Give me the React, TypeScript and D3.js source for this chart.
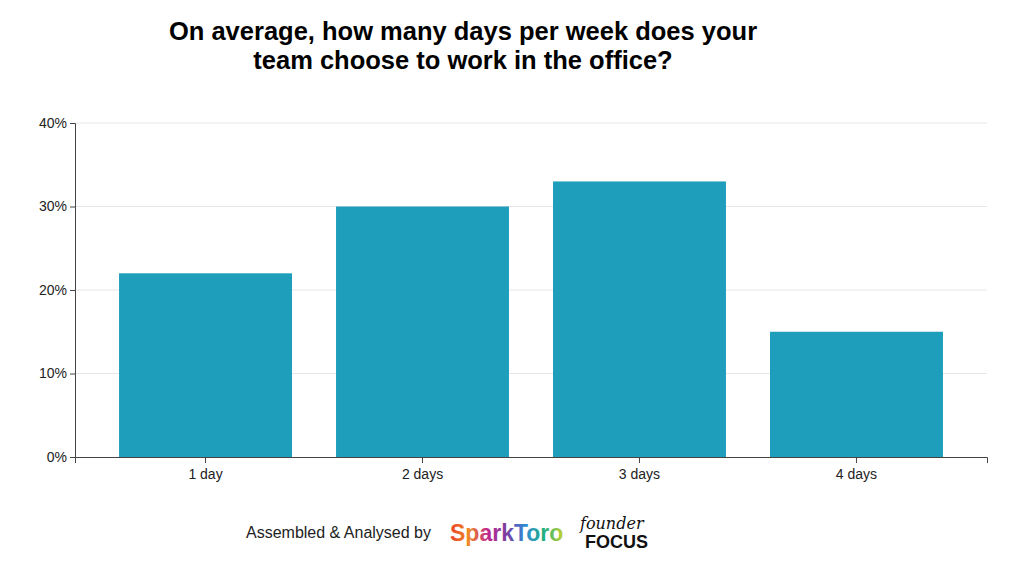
import { useEffect, useRef } from 'react';
import * as d3 from 'd3';

const categories = ['1 day', '2 days', '3 days', '4 days'];
const values = [22, 30, 33, 15];
const yTicks = [0, 10, 20, 30, 40];
const titleLines = ['On average, how many days per week does your', 'team choose to work in the office?'];

export default function App() {
  const svgRef = useRef<SVGSVGElement>(null);

  useEffect(() => {
    if (!svgRef.current) return;
    const svg = d3.select(svgRef.current);
    svg.selectAll('*').remove();
    const font = 'Helvetica, Arial, "Liberation Sans", sans-serif';
    const margin = { top: 123, left: 75, right: 37, bottom: 109 };
    const width = 1024, height = 566;
    const w = width - margin.left - margin.right;
    const h = height - margin.top - margin.bottom;

    const x = d3.scaleBand().domain(categories).range([0, w]).paddingInner(0.203).paddingOuter(0.203);
    const y = d3.scaleLinear().domain([0, 40]).range([h, 0]);

    svg.selectAll('text.title')
      .data(titleLines)
      .enter()
      .append('text')
      .attr('x', 463)
      .attr('y', (d, i) => 40 + i * 29)
      .attr('text-anchor', 'middle')
      .attr('font-family', font)
      .attr('font-size', '25.5px')
      .attr('font-weight', '700')
      .attr('fill', '#000')
      .text(d => d);

    const g = svg.append('g').attr('transform', `translate(${margin.left},${margin.top})`);

    // 그리드
    g.selectAll('line.grid')
      .data(yTicks.slice(1))
      .enter()
      .append('line')
      .attr('x1', 0).attr('x2', w)
      .attr('y1', d => y(d)).attr('y2', d => y(d))
      .attr('stroke', '#e6e6e6');

    g.selectAll('rect.bar')
      .data(values)
      .enter()
      .append('rect')
      .attr('x', (d, i) => x(categories[i])!)
      .attr('y', d => y(d))
      .attr('width', x.bandwidth())
      .attr('height', d => h - y(d))
      .attr('fill', '#1e9ebb');

    const yAxis = g.append('g')
      .call(d3.axisLeft(y).tickValues(yTicks).tickFormat(d => `${d}%`).tickSize(5).tickPadding(3));
    const xAxis = g.append('g')
      .attr('transform', `translate(0,${h})`)
      .call(d3.axisBottom(x).tickSize(6).tickPadding(6));
    [yAxis, xAxis].forEach(a => {
      a.selectAll('text').attr('font-family', font).attr('font-size', '14px').attr('fill', '#222');
      a.selectAll('line, path').attr('stroke', '#444');
    });

    // 크레딧
    svg.append('text')
      .attr('x', 246).attr('y', 538)
      .attr('font-family', font).attr('font-size', '16px').attr('fill', '#222')
      .text('Assembled & Analysed by');

    const defs = svg.append('defs');
    const grad = defs.append('linearGradient').attr('id', 'spark');
    ['#e8412c', '#f08a24', '#c2268f', '#7b3fa0', '#2e8bd6', '#22b07d', '#c9d12c'].forEach((c, i, arr) => {
      grad.append('stop').attr('offset', `${(i / (arr.length - 1)) * 100}%`).attr('stop-color', c);
    });
    svg.append('text')
      .attr('x', 450).attr('y', 541)
      .attr('font-family', font).attr('font-size', '23px').attr('font-weight', '700')
      .attr('fill', 'url(#spark)')
      .text('SparkToro');
    svg.append('text')
      .attr('x', 580).attr('y', 529)
      .attr('font-family', '"DejaVu Serif", serif').attr('font-style', 'italic')
      .attr('font-size', '16px').attr('fill', '#111')
      .text('founder');
    svg.append('text')
      .attr('x', 585).attr('y', 548)
      .attr('font-family', font).attr('font-size', '18px').attr('font-weight', '900')
      .attr('fill', '#111')
      .text('FOCUS');
  }, []);

  return (
    <svg ref={svgRef} width={1024} height={566} style={{ position: 'absolute', left: 0, top: 0, background: '#fff' }} />
  );
}
